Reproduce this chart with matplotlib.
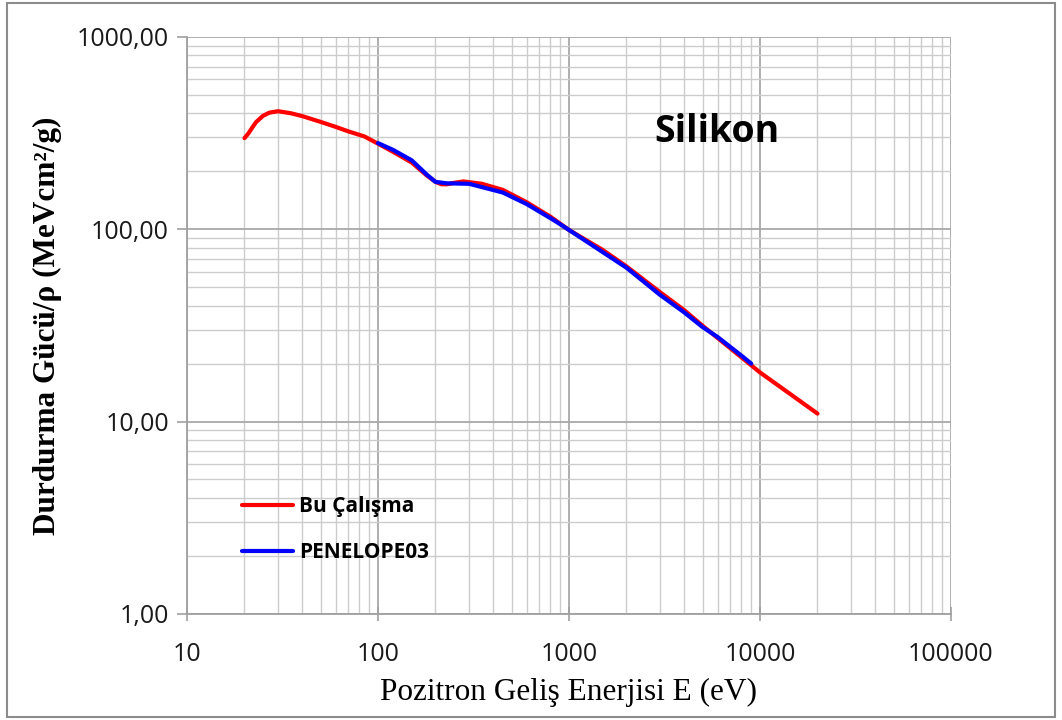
import matplotlib
matplotlib.use("Agg")
import matplotlib.pyplot as plt
from matplotlib.patches import Rectangle
from matplotlib.ticker import FixedLocator, LogLocator, NullFormatter, FixedFormatter

# Data
red_label = "Bu Çalışma"
red_x = [20, 21, 22, 23, 25, 27, 30, 35, 40, 50, 60, 70, 85, 100, 120, 150, 180, 200,
         215, 230, 250, 280, 350, 450, 600, 800, 1000, 1500, 2000, 3000, 4000, 5000,
         7000, 10000, 15000, 20000]
red_y = [297, 315, 338, 360, 388, 403, 410, 400, 387, 361, 340, 322, 303, 278, 252, 222,
         190, 176, 171, 171, 174, 177, 172, 160, 138, 116, 99, 78, 64, 47, 38, 31.5,
         24, 18, 13.5, 11]

blue_label = "PENELOPE03"
blue_x = [100, 120, 150, 180, 200, 230, 300, 450, 600, 800, 900, 1000, 1500, 2000,
          3000, 4000, 5000, 6000, 8000, 9000]
blue_y = [280, 258, 228, 192, 176, 173, 172, 155, 135, 114, 106, 99, 76, 63,
          45.5, 37, 31, 27.5, 22, 20]

x_ticks = [10, 100, 1000, 10000, 100000]
x_ticklabels = ["10", "100", "1000", "10000", "100000"]
y_ticks = [1, 10, 100, 1000]
y_ticklabels = ["1,00", "10,00", "100,00", "1000,00"]

fig = plt.figure(figsize=(10.62, 7.2), dpi=100)
ax = fig.add_axes([187 / 1062, 1 - 614 / 720, (951 - 187) / 1062, (614 - 36.7) / 720])

ax.set_xscale("log")
ax.set_yscale("log")
ax.set_xlim(10, 100000)
ax.set_ylim(1, 1000)

ax.plot(red_x, red_y, color="#ff0000", lw=3, label=red_label, zorder=3,
        solid_joinstyle="round", solid_capstyle="round")
ax.plot(blue_x, blue_y, color="#0000ff", lw=3, label=blue_label, zorder=4,
        solid_joinstyle="round", solid_capstyle="round")

ax.xaxis.set_major_locator(FixedLocator(x_ticks))
ax.xaxis.set_major_formatter(FixedFormatter(x_ticklabels))
ax.yaxis.set_major_locator(FixedLocator(y_ticks))
ax.yaxis.set_major_formatter(FixedFormatter(y_ticklabels))
ax.xaxis.set_minor_locator(LogLocator(base=10, subs=range(2, 10)))
ax.yaxis.set_minor_locator(LogLocator(base=10, subs=range(2, 10)))
ax.xaxis.set_minor_formatter(NullFormatter())
ax.yaxis.set_minor_formatter(NullFormatter())

ax.grid(True, which="major", color="#a8a8a8", lw=1.3, zorder=0)
ax.grid(True, which="minor", color="#cccccc", lw=1.0, zorder=0)
ax.set_axisbelow(True)

for side in ["top", "right"]:
    ax.spines[side].set_visible(False)
for side in ["left", "bottom"]:
    ax.spines[side].set_color("#a0a0a0")
    ax.spines[side].set_linewidth(1.3)

ax.tick_params(axis="both", which="major", direction="inout", length=10, width=1.2,
               color="#a0a0a0", labelsize=18, labelcolor="#1a1a1a")
ax.tick_params(axis="both", which="minor", length=0)
ax.tick_params(axis="y", which="major", direction="out", length=7, pad=6)
ax.tick_params(axis="x", which="major", pad=15)
for lab in ax.get_xticklabels() + ax.get_yticklabels():
    lab.set_fontfamily("Open Sans")

ax.set_xlabel("Pozitron Geliş Enerjisi E (eV)", fontfamily="Liberation Serif",
              fontsize=22.5, labelpad=8)
ax.set_ylabel("Durdurma Gücü/ρ (MeVcm²/g)", fontfamily="Liberation Serif",
              fontsize=22.5, fontweight="bold", labelpad=11)

fig.text(717 / 1062, 1 - 132 / 720, "Silikon", fontfamily="Open Sans", fontsize=27,
         fontweight="bold", ha="center", va="center")

leg = ax.legend(loc="upper left",
                bbox_to_anchor=((242 - 187) / (951 - 187), (614 - 496) / (614 - 36.7)),
                frameon=False, prop={"family": "Open Sans", "size": 15, "weight": "bold"},
                handlelength=2.45, handletextpad=0.3, labelspacing=1.2, borderpad=0,
                borderaxespad=0)

fig.patches.append(Rectangle((7 / 1062, 3 / 720), (1055 - 7) / 1062, (717 - 3) / 720,
                             transform=fig.transFigure, fill=False,
                             edgecolor="#8c8c8c", lw=1.5))

fig.savefig("out.png", dpi=100)
